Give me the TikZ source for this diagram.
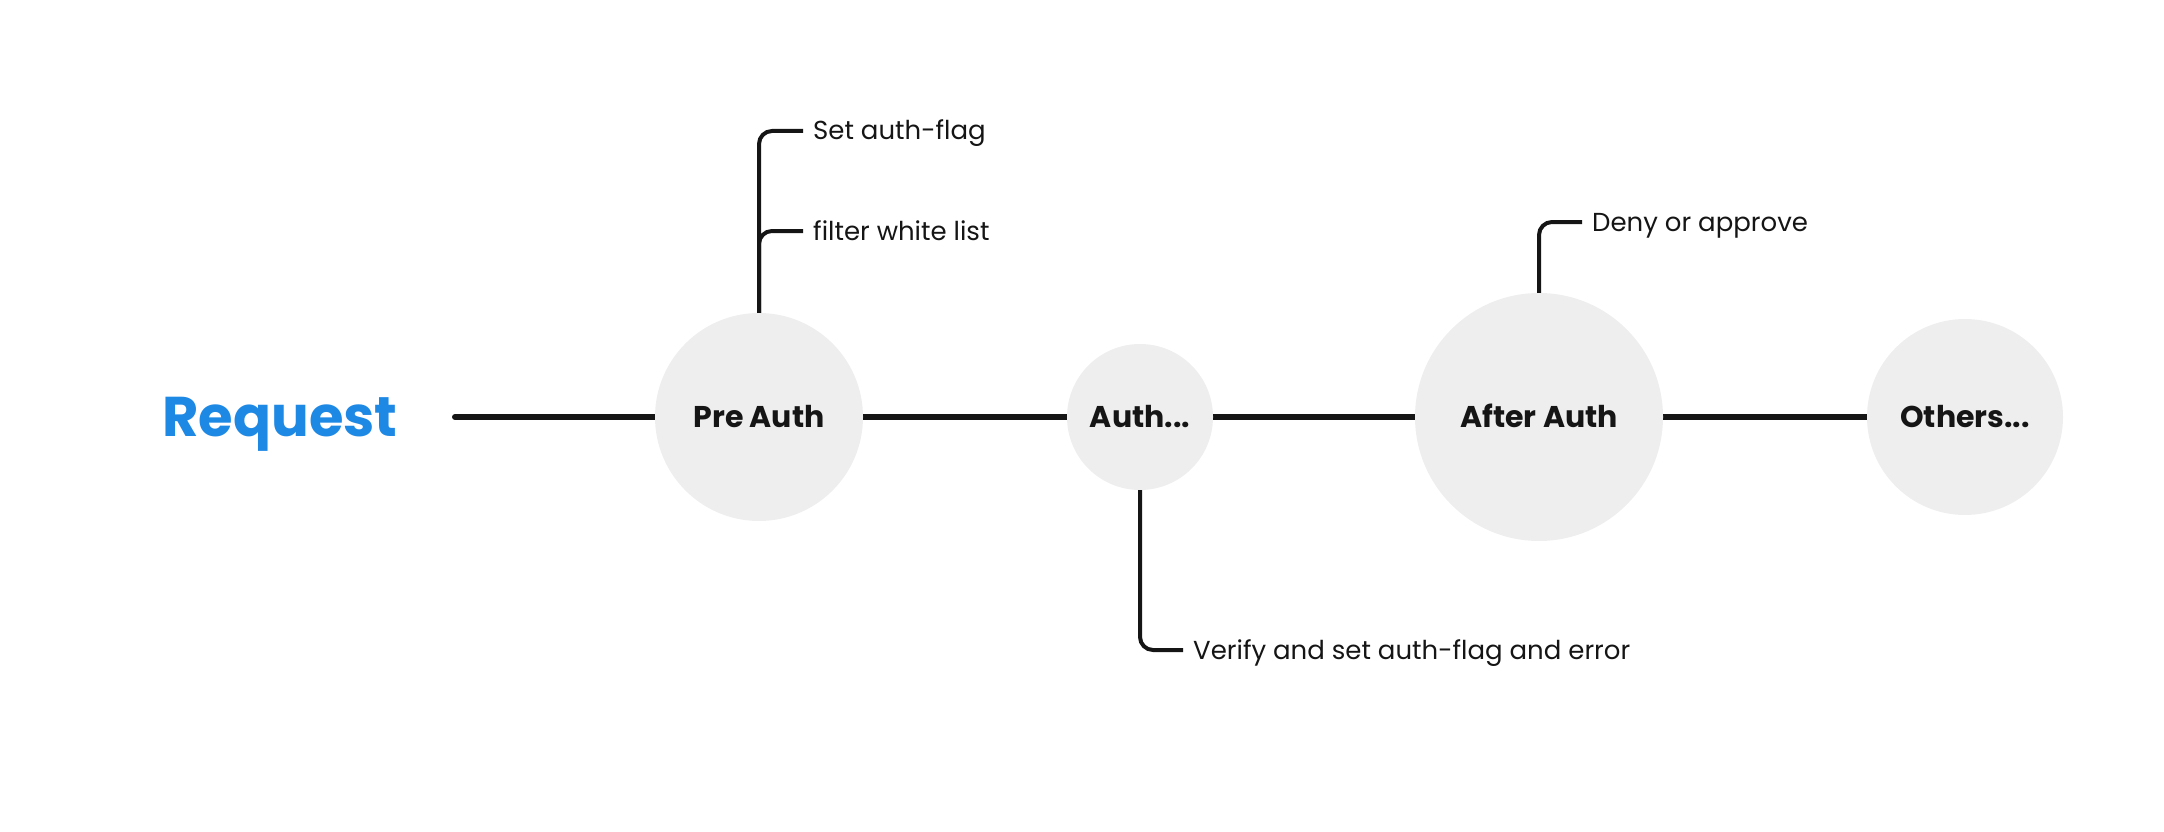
\documentclass[tikz,border=0pt]{standalone}
\usepackage{fontspec}
\setmainfont{Poppins}
\usetikzlibrary{backgrounds}
\definecolor{reqblue}{RGB}{30, 136, 229}
\definecolor{stage}{RGB}{238, 238, 238}
\definecolor{ink}{RGB}{21, 21, 21}

\tikzset{
  stagenode/.style={circle, fill=stage, inner sep=0pt, text height=21pt, text depth=0pt,
    font=\fontsize{30}{36}\selectfont\bfseries, text=ink},
  flow/.style={ink, line width=6pt, line cap=round},
  branch/.style={ink, line width=4pt, rounded corners=13pt},
  note/.style={anchor=west, inner xsep=10pt, inner ysep=0pt, text height=18pt, text depth=0pt,
    font=\fontsize{26}{32}\selectfont, text=ink}
}

\begin{document}
\begin{tikzpicture}[x=1pt, y=-1pt]
\useasboundingbox (0,0) rectangle (2164,832);
% request label
\node[text=reqblue, text height=39pt, text depth=0pt, inner sep=0pt,
  font=\fontsize{56}{66}\selectfont\bfseries] (req) at (280,417) {Request};
\coordinate (start) at (455,417);
% stages
\node[stagenode, minimum size=208pt] (pre) at (759,417) {Pre Auth};
\node[stagenode, minimum size=146pt] (auth) at (1140,417) {Auth...};
\node[stagenode, minimum size=248pt] (after) at (1539,417) {After Auth};
\node[stagenode, minimum size=196pt] (others) at (1965,417) {Others...};
% notes
\node[note] (setflag) at (803,131) {Set auth-flag};
\node[note] (filter) at (803,231) {filter white list};
\node[note] (deny) at (1582,222) {Deny or approve};
\node[note] (verify) at (1183,650) {Verify and set auth-flag and error};

\begin{scope}[on background layer]
\draw[flow] (start) -- (pre);
\draw[flow] (pre) -- (auth);
\draw[flow] (auth) -- (after);
\draw[flow] (after) -- (others);
\end{scope}
\draw[branch] (pre.north) |- (setflag.west);
\draw[branch] (pre.north) |- (filter.west);
\draw[branch] (after.north) |- (deny.west);
\draw[branch] (auth.south) |- (verify.west);
\end{tikzpicture}
\end{document}
